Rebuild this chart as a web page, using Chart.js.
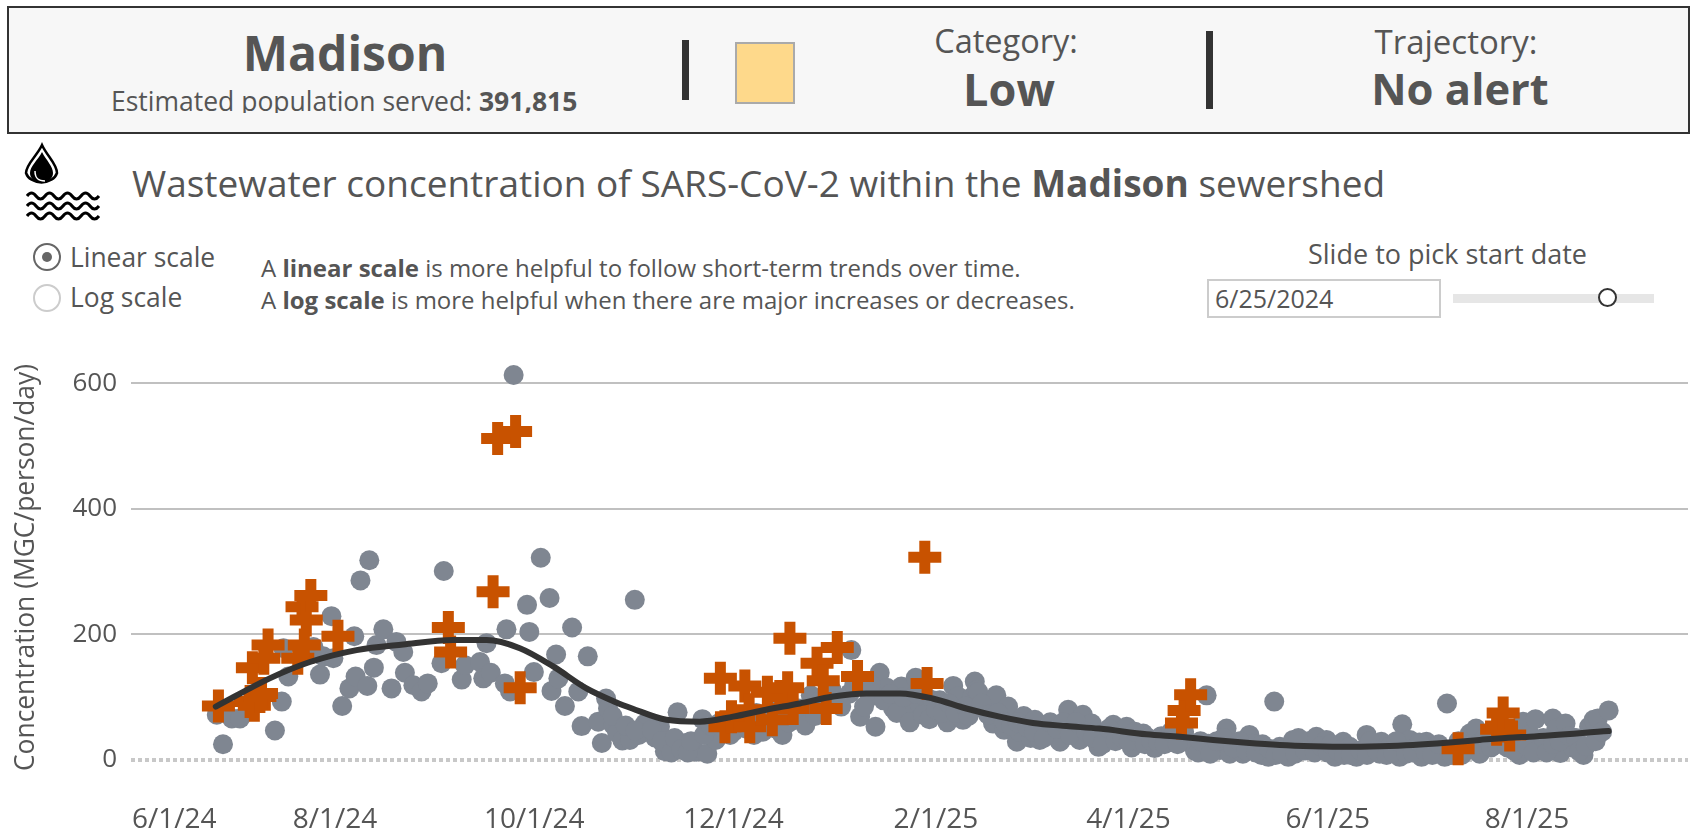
<!DOCTYPE html>
<html>
<head>
<meta charset="utf-8">
<title>Madison wastewater</title>
<script src="https://cdn.jsdelivr.net/npm/chart.js@4"></script>
<style>
  html, body { margin: 0; padding: 0; background: #fff; width: 1695px; height: 836px; overflow: hidden; }
  body { font-family: "Open Sans", sans-serif; color: #555; position: relative; }
  .t { position: absolute; white-space: nowrap; line-height: 1; }
  .c { transform: translateX(-50%); }
  b { font-weight: 700; }
  #head { position: absolute; left: 7px; top: 6px; width: 1679px; height: 124px; border: 2px solid #333; background: #f7f7f7; }
  .bar { position: absolute; background: #333; width: 7px; }
  #swatch { position: absolute; left: 735px; top: 42px; width: 56px; height: 58px; background: #fed98b; border: 2px solid #aaa; }
  #pop { position: absolute; left: 111px; top: 84px; height: 29px; overflow: hidden; font-size: 26.5px; line-height: 34px; white-space: nowrap; }
  #dateBox { position: absolute; left: 1207px; top: 279px; width: 230px; height: 35px; border: 2px solid #ccc; }
  #track { position: absolute; left: 1453px; top: 294px; width: 201px; height: 9px; background: #e6e6e6; }
  #thumb { position: absolute; left: 1598px; top: 288px; width: 15px; height: 15px; border: 2px solid #333; border-radius: 50%; background: #fff; }
  .radio { position: absolute; left: 33px; width: 24px; height: 24px; border: 2px solid #ccc; border-radius: 50%; }
  .radio.on { border-color: #666; }
  .radio.on::after { content: ""; position: absolute; left: 7px; top: 7px; width: 10px; height: 10px; border-radius: 50%; background: #666; }
  #wrap { position: absolute; left: 0; top: 340px; width: 1695px; height: 496px; }
</style>
</head>
<body>
<div id="head"></div>
<div class="t c" style="left:345px;top:29px;font-size:48px;font-weight:700">Madison</div>
<div id="pop">Estimated population served: <b>391,815</b></div>
<div class="bar" style="left:682px;top:40px;height:60px"></div>
<div id="swatch"></div>
<div class="t c" style="left:1006px;top:25px;font-size:32.5px">Category:</div>
<div class="t c" style="left:1009px;top:66px;font-size:45px;font-weight:700">Low</div>
<div class="bar" style="left:1206px;top:31px;height:78px"></div>
<div class="t c" style="left:1456px;top:25px;font-size:33px">Trajectory:</div>
<div class="t c" style="left:1460px;top:67px;font-size:43.5px;font-weight:700">No alert</div>

<svg style="position:absolute;left:24px;top:142px" width="80" height="80" viewBox="0 0 80 80">
  <path d="M18 3 C23 14 33 22 33 31 A16 12.5 0 0 1 2 31 C2 22 13 14 18 3 Z" fill="#fff" stroke="#000" stroke-width="2.5"/>
  <path d="M18 10 C22 18 29 24 29 31 A11.5 10 0 0 1 6 31 C6 24 14 18 18 10 Z" fill="#000"/>
  <path d="M11 29 C11 37 15 39 21 39" fill="none" stroke="#fff" stroke-width="1.5"/>
  <g fill="none" stroke="#000" stroke-width="3">
    <path d="M3 54 q4.5 -6 9 0 t9 0 t9 0 t9 0 t9 0 t9 0 t9 0 t9 0"/>
    <path d="M3 64 q4.5 -6 9 0 t9 0 t9 0 t9 0 t9 0 t9 0 t9 0 t9 0"/>
    <path d="M3 74 q4.5 -6 9 0 t9 0 t9 0 t9 0 t9 0 t9 0 t9 0 t9 0"/>
  </g>
</svg>
<div class="t" style="left:132px;top:164px;font-size:37px">Wastewater concentration of SARS-CoV-2 within the <b>Madison</b> sewershed</div>

<div class="radio on" style="top:243px"></div>
<div class="radio" style="top:284px"></div>
<div class="t" style="left:70px;top:244px;font-size:26.4px">Linear scale</div>
<div class="t" style="left:70px;top:284px;font-size:26.4px">Log scale</div>
<div class="t" style="left:261px;top:256px;font-size:24px">A <b>linear scale</b> is more helpful to follow short-term trends over time.</div>
<div class="t" style="left:261px;top:288px;font-size:24px">A <b>log scale</b> is more helpful when there are major increases or decreases.</div>
<div class="t" style="left:1308px;top:240px;font-size:27px">Slide to pick start date</div>
<div id="dateBox"></div>
<div class="t" style="left:1215px;top:286px;font-size:25px">6/25/2024</div>
<div id="track"></div>
<div id="thumb"></div>

<div id="wrap"><canvas id="canvas" width="1695" height="496"></canvas></div>

<script>
// x values are days since 6/1/24
const dotDays = [24.8,26.7,29.4,31.9,42.6,44.7,45.2,46.7,54.4,56.4,57.4,59.9,60.5,63.2,65.4,66.9,67.3,68.8,70.9,71.5,72.9,73.7,75.8,78.3,79.8,81.9,82.4,85,87.5,89.4,93.6,94.3,99.8,100.8,105.4,106.4,107.4,108.7,113,113.5,114.6,115.7,119.8,120.5,121.9,124,126.7,127.3,128.7,129.4,131.4,133.6,135.5,136.5,138.4,141.6,142.7,144,144.6,146.2,147.4,149,151.3,152.8,154,155.9,156.8,159,160.5,162,163.8,165.9,168.5,170,171.6,173.5,175,177.6,181,183,186,189.3,191,193,196,197.7,201,204.3,206.7,209,212,215,218.6,219.1,221.8,224.8,226.5,227.8,230,231.9,234.4,236,238.8,240,242,244,246.2,248.5,250.3,251.8,253.3,256,256.9,257.4,258,260,262.5,263.5,265.9,267.1,269.8,270.6,271.9,274,275.3,276.8,279,281,283,285.5,287,289,290,292.7,294.8,295.2,297,299.3,301,303.4,305,307,308.5,310,312,314,316.1,318,320,322,324.3,325.3,327.9,328.4,330,332,334,335,337,339,341,342,344.7,346.8,348.6,350.3,352.9,354.4,357,359,360.5,361.5,364.6,367.2,369.7,371.7,373.8,376.9,378.9,380.9,381.4,384,387,387.8,390.1,392,393.7,395.2,397.3,398,400.8,401.5,404.4,407,408.5,410.4,411.5,414,416,419,421,423.7,424.8,427,428.6,430,433.9,435,436.2,437.8,440,443.3,445,446.4,447.7,451,
   146,150,153,158,161,164,165,167,169,170,174,176,179,182,184,187,190,192,195,198,200,203,205,208,
   213,216,220,223,225,229,231,233,235,237,239,241,243,245,247,249,251,254,255,259,261,264,266,268,270,273,275,278,280,282,284,286,288,291,293,296,298,300,302,304,306,309,311,313,315,317,319,321,
   326,329,331,333,336,338,340,343,345,347,349,351,355,356,358,361,363,365,366,368,370,372,375,377,378,380,383,385,386,389,391,393,395,397,399,403,405,406,409,411,413,415,417,420,422,426,428,431,432,434,436,439,441,442,444,447,449];
const dotValues = [72,25,66,66,47,93,178,133,180,136,165,229,162,86,114,197,133,286,118,318,147,183,208,114,188,172,139,119,109,122,154,301,128,151,156,130,186,139,122,208,109,613,247,204,140,322,258,110,168,130,86,211,109,54,165,61,27,98,82,56,43,31,32,255,40,58,59,36,53,14,19,76,27,22,13,65,10,32,55,45,60,40,58,72,50,64,72,74,103,92,88,95,106,175,69,101,53,139,115,82,117,85,131,88,100,95,95,60,118,101,64,100,125,111,108,80,58,103,48,85,29,45,70,35,64,32,50,40,29,80,55,32,72,58,21,42,35,56,45,53,20,30,42,35,19,38,37,30,40,30,15,12,103,26,22,16,50,10,25,10,40,26,8,5,93,21,5,32,20,30,26,37,32,5,29,21,5,40,21,10,29,21,5,57,32,20,5,29,21,20,5,90,20,15,42,50,10,30,45,30,35,8,61,40,65,20,66,50,11,58,20,8,53,64,66,79,
   70,55,47,48,30,12,35,17,12,30,40,55,60,40,68,50,75,45,78,40,60,82,55,70,
   112,85,120,85,120,95,105,75,100,60,105,72,65,80,75,90,75,85,70,90,72,75,60,55,60,52,45,35,60,50,60,40,60,45,35,25,50,30,35,30,45,25,30,28,25,45,25,45,
   30,10,30,35,20,30,15,12,25,18,8,10,10,35,15,12,22,12,25,15,8,8,15,8,30,15,8,12,30,10,12,28,12,8,25,8,30,8,25,25,35,20,25,20,15,22,12,35,12,25,30,38,35,14,22,30,45];

const crossDays = [25.3,35,35.7,36.3,38,38.5,39.2,40.5,49.6,50.9,51.6,52.2,53.6,61.9,95.7,96.4,109.4,110.8,116.3,117.7,179,180.4,182.4,186.5,187.8,188,193.4,194.9,197.2,199.6,200.3,201.3,208.6,210.5,211.4,214.8,221,241.6,242.3,320.2,321,323,404.9,416.7,418.2,418.7,420.7];
const crossValues = [86,93,147,87,101,106,162,183,162,244,183,223,262,197,211,172,268,512,523,115,130,53,69,118,80,53,108,64,101,115,194,82,154,126,82,179,133,323,122,59,79,104,18,49,54,75,40];

const trendDays = [24.5,41,53.3,67.6,81.9,97.2,107.4,117.6,127.8,138,147,152,162.5,172.7,182.9,193,203.3,213.5,223.7,234,244,254.3,264.5,274.7,285,295,309.5,319.7,329.9,340.1,350.3,360.5,370.7,381,391.1,401.3,411.5,421.8,426.8,451];
const trendValues = [85,130,156,175,184,191,191,178,149,114,92,82,64,61,69,80,90,101,106,106,98,82,69,59,54,50,41,37,32,27.5,24,22,21,22,24,27.5,32,36,37,46];

// first label sits inside the axis instead of on 6/1/24 itself
const tickDays = [11.8,61,122,183,245,304,365,426];
const tickLabels = ["6/1/24","8/1/24","10/1/24","12/1/24","2/1/25","4/1/25","6/1/25","8/1/25"];
const yTicks = [0,200,400,600];

const FONT = "Open Sans";
const toPoints = (xs, ys) => xs.map((x, i) => ({ x: x, y: ys[i] }));

new Chart(document.getElementById("canvas"), {
   type: "scatter",
   data: {
      datasets: [
         {
            label: "Trend",
            type: "line",
            data: toPoints(trendDays, trendValues),
            borderColor: "#333333",
            borderWidth: 6,
            borderCapStyle: "round",
            cubicInterpolationMode: "monotone",
            pointRadius: 0,
            clip: false,
            order: 0
         },
         {
            label: "Outliers",
            data: toPoints(crossDays, crossValues),
            pointStyle: "cross",
            pointRadius: 16.5,
            pointBorderWidth: 11,
            pointBorderColor: "#c85200",
            pointBackgroundColor: "#c85200",
            clip: false,
            order: 1
         },
         {
            label: "Samples",
            data: toPoints(dotDays, dotValues),
            pointRadius: 10,
            pointBorderWidth: 0,
            pointBackgroundColor: "#7f8691",
            clip: false,
            order: 2
         }
      ]
   },
   options: {
      responsive: false,
      animation: false,
      // big point markers would otherwise shrink the plot area
      layout: { autoPadding: false, padding: { top: 35, right: 7 } },
      plugins: { legend: { display: false }, tooltip: { enabled: false } },
      scales: {
         x: {
            type: "linear",
            min: -1.47,
            max: 475.3,
            grid: { display: false },
            border: { display: false },
            afterFit: function (scale) {
               scale.height = 76;
               scale.paddingLeft = 0;
               scale.paddingRight = 0;
            },
            afterBuildTicks: function (scale) {
               scale.ticks = tickDays.map(v => ({ value: v }));
            },
            ticks: {
               autoSkip: false,
               maxRotation: 0,
               padding: 35,
               color: "#555",
               font: { family: FONT, size: 28 },
               callback: function (value, i) { return tickLabels[i]; }
            }
         },
         y: {
            min: 0,
            max: 613,
            afterFit: function (scale) { scale.width = 131; },
            afterBuildTicks: function (scale) {
               scale.ticks = yTicks.map(v => ({ value: v }));
            },
            grid: {
               color: ctx => ctx.tick && ctx.tick.value === 0 ? "#c8c8c8" : "#c0c0c0",
               lineWidth: ctx => ctx.tick && ctx.tick.value === 0 ? 4 : 2,
               drawTicks: false
            },
            border: {
               display: false,
               dash: ctx => ctx.tick && ctx.tick.value === 0 ? [4, 3] : []
            },
            ticks: {
               padding: 14,
               color: "#555",
               font: { family: FONT, size: 26 }
            },
            title: {
               display: true,
               text: "Concentration (MGC/person/day)",
               color: "#555",
               font: { family: FONT, size: 26.4 },
               padding: { top: 11, bottom: 0 }
            }
         }
      }
   }
});
</script>
</body>
</html>
